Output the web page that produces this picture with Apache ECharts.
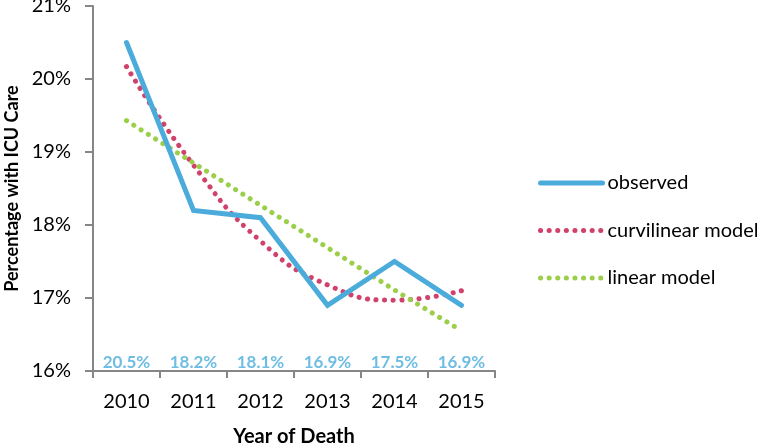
<!DOCTYPE html>
<html><head><meta charset="utf-8">
<script src="https://cdn.jsdelivr.net/npm/echarts@6/dist/echarts.min.js"></script>
<style>html,body{margin:0;padding:0;background:#fff}#c{width:771px;height:446px}</style>
</head><body><div id="c"></div>
<script>
var years = ['2010','2011','2012','2013','2014','2015'];
var observed = [20.5, 18.2, 18.1, 16.9, 17.5, 16.9];
var curvilinear = [20.17, 18.82, 17.78, 17.18, 16.97, 17.1];
var linear = [19.43, 18.85, 18.27, 17.69, 17.11, 16.55];
var labelBase = [16, 16, 16, 16, 16, 16];

var font = 'Lato, "Open Sans", sans-serif';
var chart = echarts.init(document.getElementById('c'));
chart.setOption({
  animation: false,
  textStyle: {fontFamily: font},
  grid: {left: 93, top: 6, width: 402, height: 365, containLabel: false, outerBoundsMode: 'none'},
  legend: {
    orient: 'vertical', left: 538, top: 173, itemGap: 27.5, padding: 0,
    itemWidth: 62, itemHeight: 23,
    itemStyle: {opacity: 0},
    lineStyle: {width: 5, cap: 'round'},
    textStyle: {fontSize: 20, color: '#000', fontFamily: font},
    data: ['observed', 'curvilinear model', 'linear model']
  },
  xAxis: {
    type: 'category', data: years, boundaryGap: true,
    name: 'Year of Death', nameLocation: 'middle', nameGap: 56,
    nameTextStyle: {fontSize: 20, fontWeight: 'bold', color: '#000', fontFamily: font},
    axisLine: {lineStyle: {color: '#868686', width: 2}},
    axisTick: {show: true, length: 7, lineStyle: {color: '#868686', width: 2}},
    axisLabel: {fontSize: 20, color: '#000', margin: 21, fontFamily: font}
  },
  yAxis: {
    type: 'value', min: 16, max: 21, interval: 1,
    name: 'Percentage with ICU Care', nameLocation: 'middle', nameGap: 70,
    nameTextStyle: {fontSize: 18, fontWeight: 'bold', color: '#000', fontFamily: font},
    axisLine: {show: true, lineStyle: {color: '#868686', width: 2}},
    axisTick: {show: true, length: 8, lineStyle: {color: '#868686', width: 2}},
    splitLine: {show: false},
    axisLabel: {fontSize: 20, color: '#000', margin: 22, fontFamily: font,
      formatter: function (v) { return v + '%'; }}
  },
  series: [
    {
      name: 'curvilinear model', type: 'line', data: curvilinear, smooth: 0.5,
      symbol: 'none', z: 2,
      lineStyle: {color: '#D0426B', width: 5, type: [0.1, 8.5], cap: 'round'},
      itemStyle: {color: '#D0426B'}
    },
    {
      name: 'linear model', type: 'line', data: linear,
      symbol: 'none', z: 2,
      lineStyle: {color: '#9BCF4A', width: 5, type: [0.1, 8.5], cap: 'round'},
      itemStyle: {color: '#9BCF4A'}
    },
    {
      name: 'observed', type: 'line', data: observed,
      symbol: 'none', z: 3,
      lineStyle: {color: '#4BACDC', width: 5, cap: 'round', join: 'miter'},
      itemStyle: {color: '#4BACDC'}
    },
    {
      name: 'labels', type: 'scatter', data: labelBase, symbolSize: 0,
      silent: true, z: 4,
      label: {show: true, position: 'top', distance: 0,
        color: '#4BACDC', fontWeight: 'bold', fontSize: 17, fontFamily: font,
        formatter: function (p) { return observed[p.dataIndex].toFixed(1) + '%'; }}
    }
  ]
});
</script></body></html>
